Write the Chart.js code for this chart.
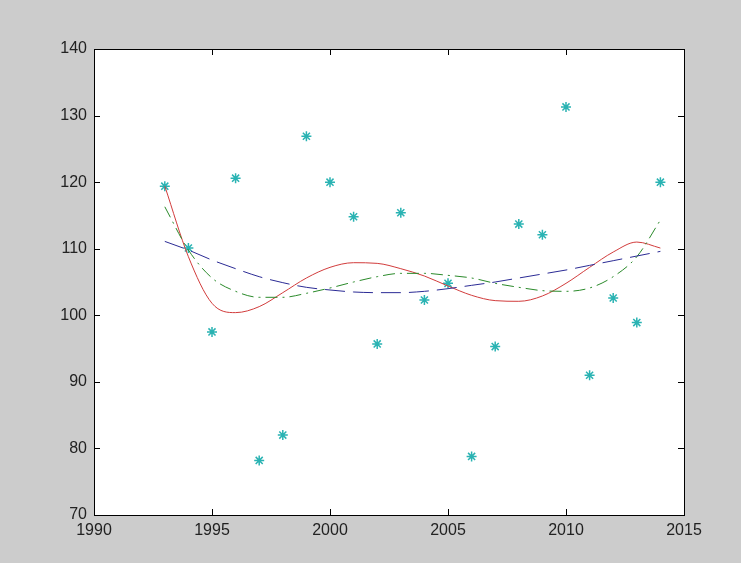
<!DOCTYPE html>
<html>
<head>
<meta charset="utf-8">
<script src="https://cdn.jsdelivr.net/npm/chart.js@4.4.1/dist/chart.umd.min.js"></script>
<style>
    html, body { margin: 0; padding: 0; background: #cccccc; }
    #wrap { width: 741px; height: 563px; }
</style>
</head>
<body>
<div id="wrap"><canvas id="fitChart" width="741" height="563"></canvas></div>
<script>
// years and observed values (stars)
const years = [1993, 1994, 1995, 1996, 1997, 1998, 1999, 2000, 2001, 2002, 2003,
               2004, 2005, 2006, 2007, 2008, 2009, 2010, 2011, 2012, 2013, 2014];
const observed = [119.4, 110.1, 97.5, 120.6, 78.2, 82.0, 126.9, 120.0, 114.8, 95.7, 115.4,
                  102.3, 104.8, 78.8, 95.3, 113.7, 112.1, 131.3, 91.0, 102.6, 98.9, 120.0];

// fitted curves
const blueFit = [111.1, 109.8, 108.3, 107.0, 105.8, 104.9, 104.2, 103.8, 103.5, 103.4, 103.4,
                 103.6, 104.0, 104.5, 105.0, 105.6, 106.2, 106.8, 107.5, 108.2, 108.9, 109.6];
const greenFit = [116.3, 109.8, 105.6, 103.6, 102.7, 102.7, 103.3, 104.1, 105.0, 105.8, 106.3,
                  106.3, 106.0, 105.6, 104.8, 104.2, 103.7, 103.6, 104.1, 105.8, 108.8, 114.3];
const redFit = [119.4, 108.8, 101.8, 100.4, 101.3, 103.4, 105.6, 107.2, 107.9, 107.8, 107.0,
                105.9, 104.4, 103.0, 102.2, 102.1, 102.9, 104.8, 107.2, 109.5, 111.0, 110.1];

const xTicks = [1990, 1995, 2000, 2005, 2010, 2015];
const yTicks = [70, 80, 90, 100, 110, 120, 130, 140];

const toPoints = vals => vals.map((v, i) => ({ x: years[i], y: v }));

// white axes box with inward ticks on all four sides
const framePlugin = {
    id: 'frame',
    beforeDatasetsDraw(chart) {
        const { ctx, chartArea: a } = chart;
        ctx.save();
        ctx.fillStyle = '#ffffff';
        ctx.fillRect(a.left, a.top, a.right - a.left, a.bottom - a.top);
        ctx.restore();
    },
    afterDatasetsDraw(chart) {
        const { ctx, chartArea: a, scales } = chart;
        const len = 6;
        ctx.save();
        ctx.strokeStyle = '#000000';
        ctx.lineWidth = 1;
        ctx.beginPath();
        xTicks.forEach(t => {
            const px = Math.round(scales.x.getPixelForValue(t)) + 0.5;
            ctx.moveTo(px, a.bottom); ctx.lineTo(px, a.bottom - len);
            ctx.moveTo(px, a.top); ctx.lineTo(px, a.top + len);
        });
        yTicks.forEach(t => {
            const py = Math.round(scales.y.getPixelForValue(t)) + 0.5;
            ctx.moveTo(a.left, py); ctx.lineTo(a.left + len, py);
            ctx.moveTo(a.right, py); ctx.lineTo(a.right - len, py);
        });
        ctx.stroke();
        ctx.strokeRect(Math.round(a.left) + 0.5, Math.round(a.top) + 0.5,
                       Math.round(a.right - a.left), Math.round(a.bottom - a.top));
        ctx.restore();
    }
};

const tickFont = { family: 'Liberation Sans, Arial, sans-serif', size: 16 };

new Chart(document.getElementById('fitChart'), {
    type: 'scatter',
    data: {
        datasets: [
            {
                label: 'quadratic',
                data: toPoints(blueFit),
                showLine: true,
                borderColor: '#2b2b95',
                borderWidth: 1,
                borderDash: [20, 8],
                pointRadius: 0,
                cubicInterpolationMode: 'monotone'
            },
            {
                label: 'cubic',
                data: toPoints(greenFit),
                showLine: true,
                borderColor: '#2a8a2a',
                borderWidth: 1,
                borderDash: [12, 5, 2, 5],
                pointRadius: 0,
                cubicInterpolationMode: 'monotone'
            },
            {
                label: 'higher',
                data: toPoints(redFit),
                showLine: true,
                borderColor: '#d23c3c',
                borderWidth: 1,
                pointRadius: 0,
                cubicInterpolationMode: 'monotone'
            },
            {
                label: 'data',
                data: toPoints(observed),
                showLine: false,
                pointStyle: 'star',
                pointRadius: 5,
                borderColor: '#2ab3b3',
                borderWidth: 1.5,
                backgroundColor: '#2ab3b3'
            }
        ]
    },
    options: {
        responsive: false,
        animation: false,
        layout: { padding: { top: 49, right: 57, left: 0, bottom: 0 } },
        plugins: {
            legend: { display: false },
            tooltip: { enabled: false }
        },
        scales: {
            x: {
                type: 'linear',
                min: 1990,
                max: 2015,
                afterFit: s => { s.height = 48; },
                afterBuildTicks: s => { s.ticks = xTicks.map(v => ({ value: v })); },
                ticks: { color: '#222222', font: tickFont, padding: 6, maxRotation: 0,
                         callback: v => String(v) },
                grid: { display: false, drawTicks: false },
                border: { display: false }
            },
            y: {
                type: 'linear',
                min: 70,
                max: 140,
                afterFit: s => { s.width = 94; },
                afterBuildTicks: s => { s.ticks = yTicks.map(v => ({ value: v })); },
                ticks: { color: '#222222', font: tickFont, padding: 7,
                         callback: v => String(v) },
                grid: { display: false, drawTicks: false },
                border: { display: false }
            }
        }
    },
    plugins: [framePlugin]
});
</script>
</body>
</html>
